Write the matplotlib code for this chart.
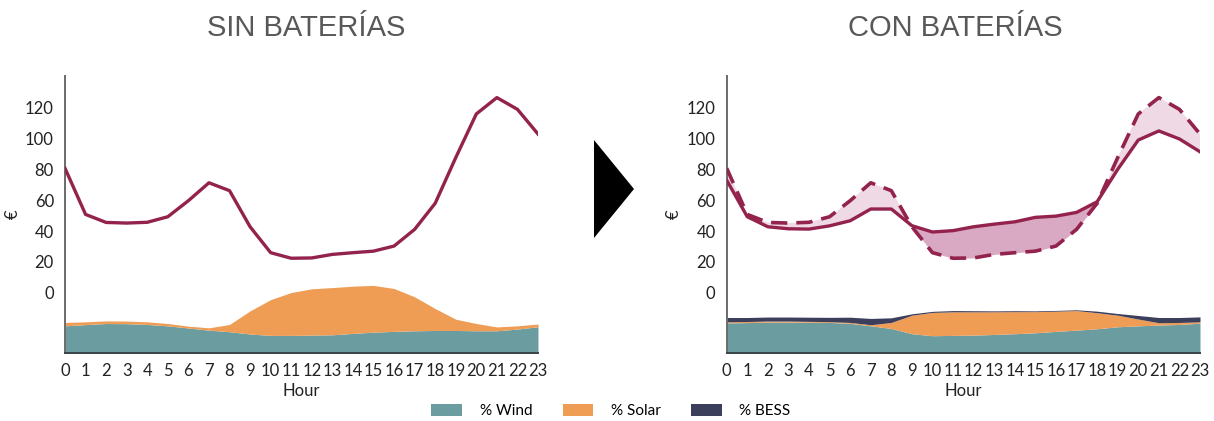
import matplotlib
matplotlib.use("Agg")
import matplotlib.pyplot as plt
from matplotlib.patches import Polygon, Patch
import numpy as np

# Hourly data
hours = list(range(24))

# Day-ahead price without storage (€/MWh)
price_no_bess = [80.7, 50.8, 45.6, 45.2, 45.7, 49.3, 59.7, 71.3, 66.2, 42.8, 26.0, 22.4,
                 22.6, 24.9, 26.0, 27.0, 30.3, 41.1, 58.0, 87.6, 115.9, 126.5, 118.9, 102.9]
# Price with storage (€/MWh)
price_bess = [73.0, 49.3, 42.8, 41.5, 41.3, 43.4, 46.7, 54.3, 54.3, 43.5, 39.4, 40.3,
              42.8, 44.5, 46.0, 48.9, 49.7, 52.1, 59.0, 80.0, 99.0, 104.9, 99.7, 91.4]

# Generation mix bands (stack heights)
wind_no_bess = [17.6, 18.4, 19.1, 19.0, 18.5, 17.6, 16.2, 14.8, 13.8, 12.3, 11.4, 11.4,
                11.6, 11.8, 12.7, 13.5, 14.0, 14.4, 14.6, 14.6, 14.4, 14.4, 15.5, 17.0]
solar_no_bess = [2.2, 1.8, 1.7, 1.7, 1.7, 1.5, 1.2, 1.5, 4.7, 15.0, 23.2, 27.8,
                 30.0, 30.6, 30.6, 30.3, 27.8, 22.0, 14.2, 7.3, 4.7, 2.5, 2.1, 1.8]

wind_bess = [19.5, 19.7, 20.0, 20.0, 19.9, 19.8, 19.2, 17.6, 15.9, 12.5, 11.2, 11.4,
             11.6, 12.0, 12.5, 13.1, 14.0, 14.8, 15.7, 17.0, 17.6, 18.1, 18.5, 19.3]
solar_bess = [0.7, 0.7, 0.7, 0.7, 0.6, 0.5, 0.6, 0.7, 3.9, 12.0, 15.1, 15.3,
              15.1, 14.7, 14.3, 13.7, 13.1, 12.7, 10.4, 7.5, 4.4, 1.5, 1.3, 0.9]
bess_share = [2.8, 2.6, 2.6, 2.6, 2.7, 2.8, 3.4, 4.1, 3.0, 0.9, 0.7, 0.8,
              0.7, 0.6, 0.6, 0.5, 0.5, 0.5, 1.0, 1.1, 2.3, 3.4, 3.2, 3.2]

price_ticks = [0, 20, 40, 60, 80, 100, 120]
titles = ["SIN BATERÍAS", "CON BATERÍAS"]
legend_labels = ["% Wind", "% Solar", "% BESS"]

C_WIND = "#6a9ca0"
C_SOLAR = "#ef9c55"
C_BESS = "#3b3f5c"
C_PRICE = "#93234c"
C_FILL_UP = "#efd9e4"
C_FILL_DOWN = "#d9a9c4"

plt.rcParams["font.family"] = ["Lato", "DejaVu Sans"]

fig = plt.figure(figsize=(12.14, 4.21), dpi=100)

YMIN, YMAX = -39, 140.5
axes_boxes = [(65 / 1214, 1 - 353 / 421, 473 / 1214, 277 / 421),
              (726.7 / 1214, 1 - 353 / 421, 473.3 / 1214, 277 / 421)]
title_centers = [306 / 1214, 955 / 1214]

x = np.array(hours)


def style_axes(ax):
    ax.set_xlim(0, 23)
    ax.set_ylim(YMIN, YMAX)
    ax.set_yticks(price_ticks)
    ax.set_xticks(hours)
    ax.tick_params(axis="both", length=0, labelsize=12, colors="#222222")
    ax.tick_params(axis="y", pad=8)
    ax.tick_params(axis="x", pad=7)
    for s in ("top", "right"):
        ax.spines[s].set_visible(False)
    ax.spines["left"].set_color("#6b6b6b")
    ax.spines["left"].set_linewidth(1.4)
    ax.spines["bottom"].set_color("#3a4448")
    ax.spines["bottom"].set_linewidth(1.4)
    ax.set_xlabel("Hour", fontsize=12, color="#222222", labelpad=3)
    ax.set_ylabel("€", fontsize=12, color="#222222")
    ax.yaxis.set_label_coords(-0.094, 0.5)
    ax.patch.set_alpha(0)


def draw_mix(ax, layers, colors):
    base = np.full(len(hours), float(YMIN))
    for vals, col in zip(layers, colors):
        top = base + np.array(vals)
        ax.fill_between(x, base, top, color=col, linewidth=0, zorder=1)
        base = top


# Left panel: without storage
ax1 = fig.add_axes(axes_boxes[0])
draw_mix(ax1, [wind_no_bess, solar_no_bess], [C_WIND, C_SOLAR])
ax1.plot(x, price_no_bess, color=C_PRICE, lw=2.4, zorder=3)
style_axes(ax1)

# Right panel: with storage
ax2 = fig.add_axes(axes_boxes[1])
draw_mix(ax2, [wind_bess, solar_bess, bess_share], [C_WIND, C_SOLAR, C_BESS])
p0 = np.array(price_no_bess)
p1 = np.array(price_bess)
ax2.fill_between(x, p1, p0, where=p0 >= p1, interpolate=True,
                 color=C_FILL_UP, linewidth=0, zorder=2)
ax2.fill_between(x, p1, p0, where=p0 <= p1, interpolate=True,
                 color=C_FILL_DOWN, linewidth=0, zorder=2)
ax2.plot(x, price_bess, color=C_PRICE, lw=2.4, zorder=3)
ax2.plot(x, price_no_bess, color=C_PRICE, lw=2.6, ls=(0, (4.5, 2.5)), zorder=3)
style_axes(ax2)

# Panel titles
for cx, t in zip(title_centers, titles):
    fig.text(cx, 1 - 28 / 421, t, ha="center", va="center",
             fontsize=21, color="#585858", family=["Liberation Sans", "DejaVu Sans"])

# Arrow between panels
tri = Polygon([[594 / 1214, 1 - 140 / 421], [594 / 1214, 1 - 238 / 421],
               [634 / 1214, 1 - 189 / 421]], closed=True,
              transform=fig.transFigure, facecolor="black", edgecolor="none")
fig.patches.append(tri)

# Legend
handles = [Patch(facecolor=c, edgecolor="none") for c in (C_WIND, C_SOLAR, C_BESS)]
fig.legend(handles, legend_labels, loc="center", bbox_to_anchor=(611 / 1214, 1 - 411 / 421),
           ncol=3, frameon=False, fontsize=11, handlelength=2.0, handleheight=0.9,
           handletextpad=1.15, columnspacing=2.0)

fig.savefig("out.png", dpi=100)
